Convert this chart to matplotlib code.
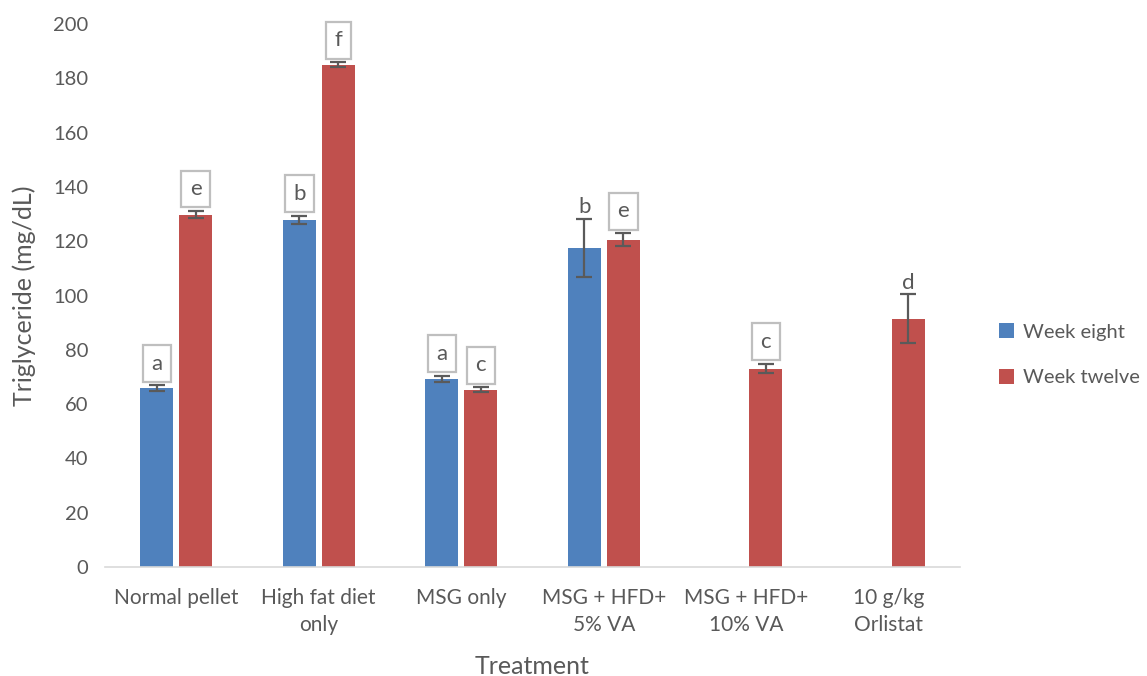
import numpy as np
import matplotlib
matplotlib.use("Agg")
import matplotlib.pyplot as plt

plt.rcParams['font.family'] = ['Lato', 'DejaVu Sans']

# Data
categories = ["Normal pellet", "High fat diet\nonly", "MSG only",
              "MSG + HFD+\n5% VA", "MSG + HFD+\n10% VA", "10 g/kg\nOrlistat"]
week_eight = [65.9, 127.9, 69.3, 117.5, np.nan, np.nan]
week_eight_err = [1.0, 1.5, 1.2, 10.8, np.nan, np.nan]
week_twelve = [129.8, 185.0, 65.3, 120.6, 73.1, 91.4]
week_twelve_err = [1.4, 1.0, 1.0, 2.4, 1.8, 9.0]
eight_letters = ["a", "b", "a", "b", "", ""]
eight_boxed = [True, True, True, False, False, False]
twelve_letters = ["e", "f", "c", "e", "c", "d"]
twelve_boxed = [True, True, True, True, True, False]
yticks = [0, 20, 40, 60, 80, 100, 120, 140, 160, 180, 200]

blue = "#4F81BD"
red = "#C0504D"
text_gray = "#595959"

fig = plt.figure(figsize=(11.47, 6.76), dpi=100)
ax = fig.add_axes([0.0915, 0.1612, 0.7455, 0.8033])

x = np.arange(len(categories))
w = 0.232
off = 0.137

err_kw = dict(ecolor="#5a5a5a", elinewidth=1.6, capsize=5.5, capthick=1.6)
ax.bar(x - off, week_eight, w, color=blue, yerr=week_eight_err,
       error_kw=err_kw, label="Week eight", zorder=2)
ax.bar(x + off, week_twelve, w, color=red, yerr=week_twelve_err,
       error_kw=err_kw, label="Week twelve", zorder=2)

def put_letters(xs, vals, errs, letters, boxed):
    for xi, v, e, lt, bx in zip(xs, vals, errs, letters, boxed):
        if not lt or np.isnan(v):
            continue
        top = v + e
        if bx:
            ax.annotate(lt, (xi, top), xytext=(0, 8.5), textcoords="offset points",
                        ha="center", va="bottom", fontsize=16, color=text_gray,
                        bbox=dict(boxstyle="square,pad=0.38", fc="white",
                                  ec="#BFBFBF", lw=1.6), zorder=3)
        else:
            ax.annotate(lt, (xi, top), xytext=(0, 1), textcoords="offset points",
                        ha="center", va="bottom", fontsize=16, color=text_gray,
                        zorder=3)

put_letters(x - off, week_eight, week_eight_err, eight_letters, eight_boxed)
put_letters(x + off, week_twelve, week_twelve_err, twelve_letters, twelve_boxed)

ax.set_xlim(-0.5, len(categories) - 0.5)
ax.set_ylim(0, 200)
ax.set_yticks(yticks)
ax.set_xticks(x)
ax.set_xticklabels(categories, fontsize=15, linespacing=1.45)
ax.tick_params(axis="x", length=0, labelcolor=text_gray, pad=15)
ax.tick_params(axis="y", length=0, labelsize=14.5, labelcolor=text_gray, pad=12)
for s in ["top", "right", "left"]:
    ax.spines[s].set_visible(False)
ax.spines["bottom"].set_color("#D9D9D9")
ax.spines["bottom"].set_linewidth(1.2)

ax.set_xlabel("Treatment", fontsize=18, color=text_gray, labelpad=14)
ax.set_ylabel("Triglyceride (mg/dL)", fontsize=18, color=text_gray, labelpad=12)

leg = fig.legend(loc="center left", bbox_to_anchor=(0.855, 0.475), frameon=False,
                 fontsize=14.5, labelcolor=text_gray, handlelength=0.75,
                 handleheight=0.75, handletextpad=0.45, labelspacing=1.4)

fig.savefig("out.png", dpi=100)
